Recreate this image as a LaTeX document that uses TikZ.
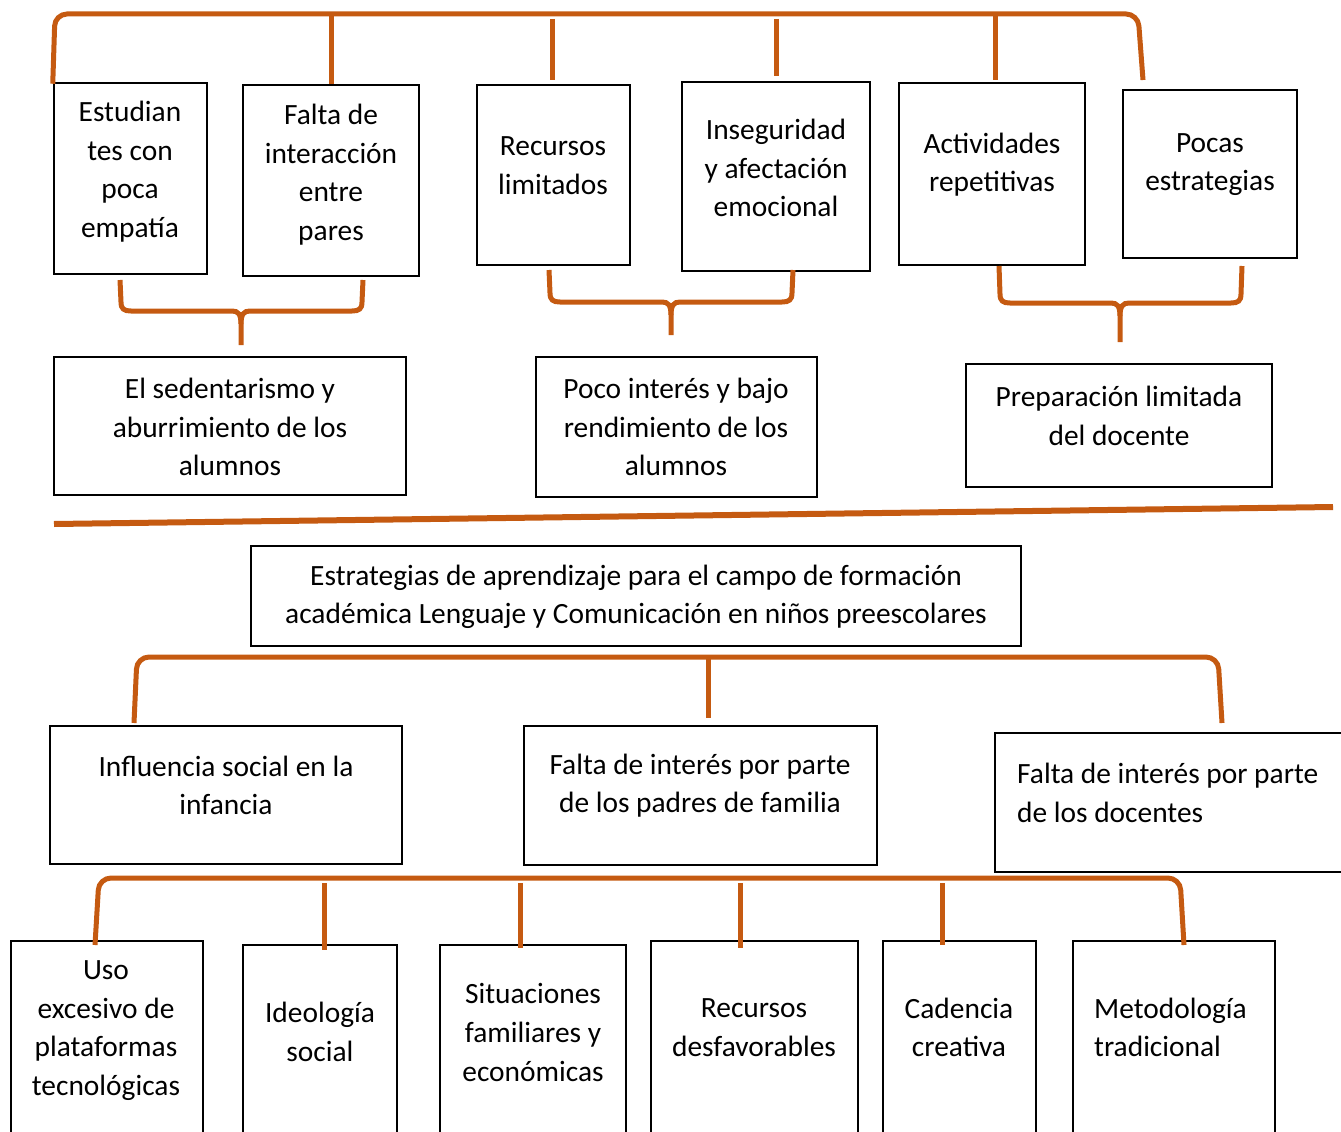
\documentclass[tikz,border=0pt]{standalone}
\usepackage{fontspec}
\setmainfont{Carlito}
\usepackage{tikz}
\definecolor{brk}{RGB}{197,90,17}
\tikzset{
  box/.style={draw, line width=2.5pt, inner sep=0pt},
  txt/.style={align=center, inner sep=0pt, yshift=-1.5pt, font=\fontsize{29.4}{38.6}\selectfont},
  brk/.style={draw=brk, line width=5pt},
}

\begin{document}
\begin{tikzpicture}[x=1pt,y=1pt,yscale=-1,xscale=1]
\clip (0,0) rectangle (1341,1132);

%Shape: Rectangles, first row
\node[box, minimum width=153, minimum height=191] (a1) at (130.5,178.5) {};
\node[box, minimum width=176, minimum height=191] (a2) at (331,180.5) {};
\node[box, minimum width=153, minimum height=180] (a3) at (553.5,175) {};
\node[box, minimum width=188, minimum height=189] (a4) at (776,176.5) {};
\node[box, minimum width=186, minimum height=182] (a5) at (992,174) {};
\node[box, minimum width=174, minimum height=168] (a6) at (1210,174) {};
%Shape: Rectangles, second row
\node[box, minimum width=352, minimum height=138] (b1) at (230,426) {};
\node[box, minimum width=281, minimum height=140] (b2) at (676.5,427) {};
\node[box, minimum width=306, minimum height=123] (b3) at (1119,425.5) {};
%Shape: Rectangle, title
\node[box, minimum width=770, minimum height=100] (tema) at (636,596) {};
%Shape: Rectangles, third row
\node[box, minimum width=352, minimum height=138] (c1) at (226,795) {};
\node[box, minimum width=353, minimum height=139] (c2) at (700.5,795.5) {};
\node[box, minimum width=355, minimum height=139] (c3) at (1172.5,802.5) {};
%Shape: Rectangles, fourth row
\node[box, minimum width=192, minimum height=209] (d1) at (107,1045.5) {};
\node[box, minimum width=154, minimum height=205] (d2) at (320,1047.5) {};
\node[box, minimum width=186, minimum height=205] (d3) at (533,1047.5) {};
\node[box, minimum width=207, minimum height=209] (d4) at (754.5,1045.5) {};
\node[box, minimum width=153, minimum height=209] (d5) at (959.5,1045.5) {};
\node[box, minimum width=202, minimum height=209] (d6) at (1174,1045.5) {};

%Top bracket
\coordinate (t1) at (0,14);
\coordinate (t1r) at (1143,80);
\draw[brk, rounded corners=12] ([yshift=2]a1.north west) -- (55,14) -- (1138,14) -- (t1r);
\draw[brk] (a2.north |- t1) -- (a2.north);
\draw[brk] (552,19) -- (552,80);
\draw[brk] (776,19) -- (776,76);
\draw[brk] (995,14) -- (995,80);

%Braces under the first row
\foreach \l/\m/\r/\t/\h/\b in {120/241/363/280/311/345, 549/671/793/270/302/335, 999/1120/1242/266/303/342}{
  \draw[brk] (\l,\t) -- (\l+1,\h-9) .. controls (\l+1,\h-2) and (\l+4,\h) .. (\l+11,\h) -- (\m-9,\h)
    .. controls (\m-3,\h) and (\m,\h+3) .. (\m,\h+13) -- (\m,\b);
  \draw[brk] (\r,\t) -- (\r-1,\h-9) .. controls (\r-1,\h-2) and (\r-4,\h) .. (\r-11,\h) -- (\m+9,\h)
    .. controls (\m+3,\h) and (\m,\h+3) .. (\m,\h+13);
}

%Straight Line, separator
\coordinate (s1) at (54,524);
\coordinate (s2) at (1333,507);
\draw[brk, line width=6pt] (s1) -- (s2);

%Bracket under the title
\draw[brk, rounded corners=12] (134,723) -- (137,657) -- (1218,657) -- (1222,723);
\draw[brk] (708,657) -- (708,718);

%Bracket over the fourth row
\draw[brk, rounded corners=12] (95,945) -- (99,878) -- (1180,878) -- (1184,945);
\draw[brk] (324,883) -- (324,950);
\draw[brk] (520,883) -- (520,948);
\draw[brk] (740,883) -- (740,948);
\draw[brk] (942,883) -- (942,945);

% Text Node
\node[txt] (a1t) at (130,170) {Estudian\\tes con\\poca\\empatía};
% Text Node
\node[txt] (a2t) at (331,173) {Falta de\\interacción\\entre\\pares};
% Text Node
\node[txt] (a3t) at (553,164) {Recursos\\limitados};
% Text Node
\node[txt] (a4t) at (776,166.5) {Inseguridad\\y afectación\\emocional};
% Text Node
\node[txt] (a5t) at (992,163) {Actividades\\repetitivas};
% Text Node
\node[txt] (a6t) at (1210,163) {Pocas\\estrategias};
% Text Node
\node[txt] (b1t) at (230,425.5) {El sedentarismo y\\aburrimiento de los\\alumnos};
% Text Node
\node[txt] (b2t) at (676,425.5) {Poco interés y bajo\\rendimiento de los\\alumnos};
% Text Node
\node[txt] (b3t) at (1119,414.5) {Preparación limitada\\del docente};
% Text Node
\node[txt] (temat) at (636,595.5) {Estrategias de aprendizaje para el campo de formación\\académica Lenguaje y Comunicación en niños preescolares};
% Text Node
\node[txt] (c1t) at (226,784) {Influencia social en la\\infancia};
% Text Node
\node[txt] (c2t) at (700,784) {Falta de interés por parte\\de los padres de familia};
% Text Node
\node[txt, align=left, anchor=west] (c3t) at (1017,791.5) {Falta de interés por parte\\de los docentes};
% Text Node
\node[txt] (d1t) at (106,1029) {Uso\\excesivo de\\plataformas\\tecnológicas};
% Text Node
\node[txt] (d2t) at (320,1030.5) {Ideología\\social};
% Text Node
\node[txt] (d3t) at (533,1031) {Situaciones\\familiares y\\económicas};
% Text Node
\node[txt] (d4t) at (754,1026) {Recursos\\desfavorables};
% Text Node
\node[txt] (d5t) at (959,1026) {Cadencia\\creativa};
% Text Node
\node[txt, align=left, anchor=west] (d6t) at (1094,1026) {Metodología\\tradicional};
\end{tikzpicture}
\end{document}
